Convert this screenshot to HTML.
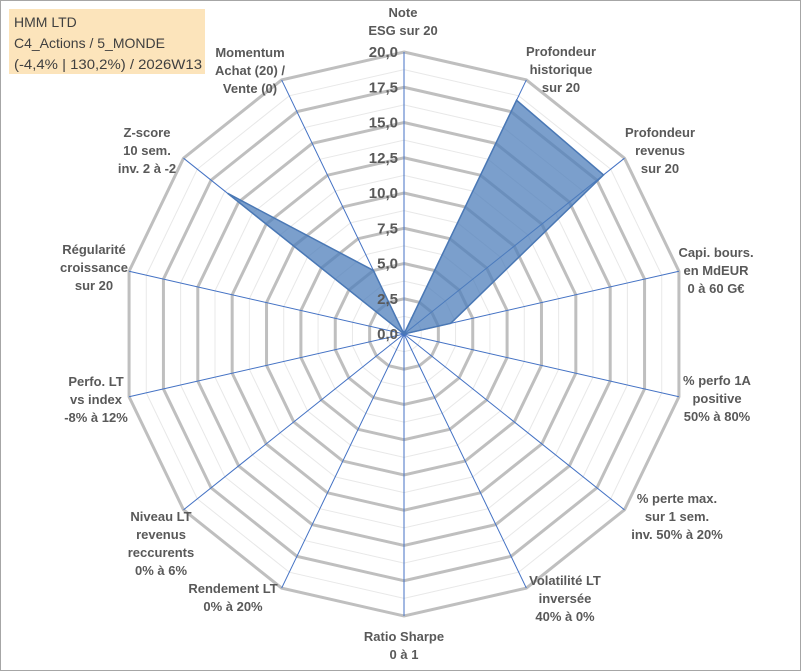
<!DOCTYPE html>
<html><head><meta charset="utf-8"><style>
body{margin:0;background:#fff;}
svg{display:block;font-family:"Liberation Sans",Arial,sans-serif;}
</style></head><body>
<svg id="c" width="801" height="671" viewBox="0 0 801 671">
<rect x="0.5" y="0.5" width="800" height="670" fill="#fff" stroke="#a6a6a6"/>
<g id="grid"></g><g id="spokes"></g><g id="series"></g><g id="ticks"></g><g id="labels"></g>
<rect x="9" y="9" width="196" height="65" fill="#fce4bb"/>
<g font-size="14" fill="#404040">
<text x="14" y="27">HMM LTD</text>
<text x="14" y="48">C4_Actions / 5_MONDE</text>
<text x="14" y="69" textLength="188" lengthAdjust="spacingAndGlyphs">(-4,4% | 130,2%) / 2026W13</text>
</g>
</svg>
<script>
const categories=["Note|ESG sur 20","Profondeur|historique|sur 20","Profondeur|revenus|sur 20","Capi. bours.|en MdEUR|0 à 60 G€","% perfo 1A|positive|50% à 80%","% perte max.|sur 1 sem.|inv. 50% à 20%","Volatilité LT|inversée|40% à 0%","Ratio Sharpe|0 à 1","Rendement LT|0% à 20%","Niveau LT|revenus|reccurents|0% à 6%","Perfo. LT|vs index|-8% à 12%","Régularité|croissance|sur 20","Z-score|10 sem.|inv. 2 à -2","Momentum|Achat (20) /|Vente (0)"];
const values=[0,18.4,18.1,3.4,0,0,0,0,0,0,0,0,16.0,5.0];
const tickLabels=["0,0","2,5","5,0","7,5","10,0","12,5","15,0","17,5","20,0"];
const tickValues=[0,2.5,5,7.5,10,12.5,15,17.5,20];
const labelPos=[[403,17],[561,56],[660,137],[716,257],[717,385],[677,503],[565,585],[404,641],[233,593],[161,521],[96,386],[94,254],[147,137],[250,57]];
const cx=404,cy=334,R=282,maxV=20,N=categories.length;
const ns="http://www.w3.org/2000/svg";
function ang(i){return i*2*Math.PI/N;}
function pt(i,v){const r=v/maxV*R,a=ang(i);return [cx+r*Math.sin(a),cy-r*Math.cos(a)];}
function mk(t,attrs,parent){const e=document.createElementNS(ns,t);for(const k in attrs)e.setAttribute(k,attrs[k]);parent.appendChild(e);return e;}
const grid=document.getElementById('grid');
for(let k=1;k<=16;k++){const v=k*1.25;const major=k%2===0;
 const p=[];for(let i=0;i<N;i++)p.push(pt(i,v).join(','));
 const e=mk('polygon',{points:p.join(' '),fill:'none',stroke:major?'#bfbfbf':'#e8e8e8','stroke-width':major?3:1},grid);
 
 }
const sp=document.getElementById('spokes');
for(let i=0;i<N;i++){const [x,y]=pt(i,maxV);
 const e=mk('line',{x1:cx,y1:cy,x2:x,y2:y,stroke:'#4472c4','stroke-width':1},sp);
 
 }
const se=document.getElementById('series');
const poly=mk('polygon',{points:values.map((v,i)=>pt(i,v).join(',')).join(' '),fill:'#4f7fbb','fill-opacity':0.75,stroke:'#4a78b5','stroke-width':1.5},se);


const tk=document.getElementById('ticks');
tickValues.forEach((v,j)=>{const [x,y]=pt(0,v);
 const t=mk('text',{x:x-6,y:y+5,'text-anchor':'end','font-size':15,'font-weight':'bold',fill:'#595959'},tk);
 t.textContent=tickLabels[j];
 
 });
const lb=document.getElementById('labels');
categories.forEach((c,i)=>{const lines=c.split('|');const [bx,by]=labelPos[i];
 const g=mk('text',{x:bx,y:by,'text-anchor':'middle','font-size':13,'font-weight':'bold',fill:'#595959'},lb);
 
 
 lines.forEach((l,k)=>{const ts=mk('tspan',{x:bx,dy:k?18:0},g);ts.textContent=l;});});
</script>
</body></html>
